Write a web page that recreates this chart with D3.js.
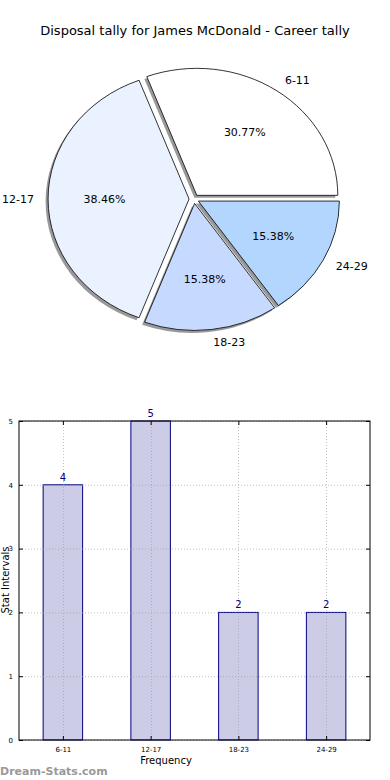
<!DOCTYPE html>
<html>
<head>
<meta charset="utf-8">
<script src="https://cdn.jsdelivr.net/npm/d3@7"></script>
<style>
  body { margin: 0; background: #fff; }
  svg { font-family: "DejaVu Sans", sans-serif; display: block; }
</style>
</head>
<body>
<svg class="chart"></svg>
<script>
let categories = ['6-11', '12-17', '18-23', '24-29']
let values = [4, 5, 2, 2]
let pieColors = ['#ffffff', '#ebf2ff', '#c6d9ff', '#b3d6ff']
let yTicks = [0, 1, 2, 3, 4, 5]

let svg_width = 390
let svg_height = 780

let svg = d3.select('.chart')
  .attr('width', svg_width)
  .attr('height', svg_height)

// title
svg.append('text')
  .attr('x', 195)
  .attr('y', 35)
  .attr('text-anchor', 'middle')
  .style('font-size', '13px')
  .text('Disposal tally for James McDonald - Career tally')

// ---------- pie ----------
let cx = 194, cy = 199
let rx = 141, ry = 127
let explode = 0.035
let total = d3.sum(values)

// matplotlib style: start at 3 o'clock and go counter clockwise
let pie = d3.pie().sort(null)
  .startAngle(Math.PI / 2)
  .endAngle(Math.PI / 2 - 2 * Math.PI)

let arcs = pie(values)
let arc = d3.arc().innerRadius(0).outerRadius(rx)

function offset(d, k) {
  let a = (d.startAngle + d.endAngle) / 2
  return [Math.sin(a) * k * rx, -Math.cos(a) * k * ry]
}

let pieG = svg.append('g')

// shadows
pieG.selectAll('.shadow')
  .data(arcs)
  .enter()
  .append('path')
  .attr('class', 'shadow')
  .attr('d', arc)
  .attr('fill', '#000')
  .attr('opacity', 0.4)
  .attr('transform', d => {
    let o = offset(d, explode)
    return translate(cx + o[0] - 2.5, cy + o[1] + 2.5) + ' scale(1,' + (ry / rx) + ')'
  })

pieG.selectAll('.slice')
  .data(arcs)
  .enter()
  .append('path')
  .attr('class', 'slice')
  .attr('d', arc)
  .attr('fill', (d, i) => pieColors[i])
  .attr('stroke', '#000')
  .attr('stroke-width', 0.8)
  .attr('vector-effect', 'non-scaling-stroke')
  .attr('stroke-linejoin', 'miter')
  .attr('transform', d => {
    let o = offset(d, explode)
    return translate(cx + o[0], cy + o[1]) + ' scale(1,' + (ry / rx) + ')'
  })

// category labels at 1.1 radius
pieG.selectAll('.pie-label')
  .data(arcs)
  .enter()
  .append('text')
  .attr('class', 'pie-label')
  .attr('x', d => cx + offset(d, explode)[0] + offset(d, 1.1)[0])
  .attr('y', d => cy + offset(d, explode)[1] + offset(d, 1.1)[1])
  .attr('dy', '0.35em')
  .attr('text-anchor', d => offset(d, 1)[0] > 0 ? 'start' : 'end')
  .style('font-size', '11px')
  .text((d, i) => categories[i])

// percentages at 0.6 radius
pieG.selectAll('.pct')
  .data(arcs)
  .enter()
  .append('text')
  .attr('class', 'pct')
  .attr('x', d => cx + offset(d, explode)[0] + offset(d, 0.6)[0])
  .attr('y', d => cy + offset(d, explode)[1] + offset(d, 0.6)[1])
  .attr('dy', '0.35em')
  .attr('text-anchor', 'middle')
  .style('font-size', '11px')
  .text(d => d3.format('.2%')(d.value / total))

// ---------- bars ----------
let bx0 = 19, bx1 = 370, by0 = 421, by1 = 740

let scaleX = d3.scaleLinear()
  .domain([-0.5, categories.length - 0.5])
  .range([bx0, bx1])

let scaleY = d3.scaleLinear()
  .domain([0, d3.max(yTicks)])
  .range([by1, by0])

let barW = 0.45

svg.selectAll('.bar')
  .data(values)
  .enter()
  .append('rect')
  .attr('class', 'bar')
  .attr('x', (d, i) => scaleX(i - barW / 2))
  .attr('y', d => scaleY(d))
  .attr('width', scaleX(barW) - scaleX(0))
  .attr('height', d => by1 - scaleY(d))
  .attr('fill', '#ccccE6')
  .attr('stroke', '#000080')
  .attr('stroke-width', 1)

// grid on top of bars
let grid = svg.append('g')
  .attr('stroke', '#999')
  .attr('stroke-width', 1)
  .attr('stroke-dasharray', '1,2')
  .attr('opacity', 0.6)

grid.selectAll('.hgrid')
  .data(yTicks)
  .enter()
  .append('line')
  .attr('x1', bx0).attr('x2', bx1)
  .attr('y1', d => scaleY(d) + 0.5).attr('y2', d => scaleY(d) + 0.5)

grid.selectAll('.vgrid')
  .data(categories)
  .enter()
  .append('line')
  .attr('x1', (d, i) => Math.round(scaleX(i)) + 0.5)
  .attr('x2', (d, i) => Math.round(scaleX(i)) + 0.5)
  .attr('y1', by0).attr('y2', by1)

// axes
let axisY = d3.axisLeft(scaleY).tickValues(yTicks).tickFormat(d3.format('d')).tickSize(-4).tickPadding(6)
let axisYr = d3.axisRight(scaleY).tickValues(yTicks).tickSize(-4).tickFormat('')
let axisX = d3.axisBottom(scaleX)
  .tickValues(d3.range(categories.length))
  .tickFormat(i => categories[i])
  .tickSize(-4).tickPadding(7)
let axisXt = d3.axisTop(scaleX).tickValues(d3.range(categories.length)).tickSize(-4).tickFormat('')

svg.append('g').attr('transform', translate(bx0, 0)).call(customAxis, axisY)
svg.append('g').attr('transform', translate(bx1, 0)).call(customAxis, axisYr)
svg.append('g').attr('transform', translate(0, by1)).call(customAxis, axisX)
svg.append('g').attr('transform', translate(0, by0)).call(customAxis, axisXt)

// frame
svg.append('rect')
  .attr('x', bx0).attr('y', by0)
  .attr('width', bx1 - bx0).attr('height', by1 - by0)
  .attr('fill', 'none')
  .attr('stroke', '#000')
  .attr('stroke-width', 1)

// value labels
svg.selectAll('.val')
  .data(values)
  .enter()
  .append('text')
  .attr('class', 'val')
  .attr('x', (d, i) => scaleX(i))
  .attr('y', d => scaleY(d) - 4)
  .attr('text-anchor', 'middle')
  .attr('fill', '#000080')
  .style('font-size', '10px')
  .text(d => d)

svg.append('text')
  .attr('x', 166)
  .attr('y', 764)
  .attr('text-anchor', 'middle')
  .style('font-size', '10px')
  .text('Frequency')

svg.append('text')
  .attr('transform', 'translate(8.5,580) rotate(-90)')
  .attr('text-anchor', 'middle')
  .style('font-size', '10px')
  .text('Stat Intervals')

svg.append('text')
  .attr('x', 0)
  .attr('y', 775)
  .attr('fill', '#999')
  .style('font-size', '11px')
  .style('font-weight', 'bold')
  .text('Dream-Stats.com')

function customAxis(g, ax) {
  g.call(ax)
  g.select('.domain').remove()
  g.selectAll('.tick line').attr('stroke', '#000')
  g.selectAll('.tick text').style('font-size', '7px').attr('fill', '#000')
    .style('font-family', '"DejaVu Sans", sans-serif')
}

function translate(x, y) {
  return 'translate(' + x + ',' + y + ')'
}
</script>
</body>
</html>
